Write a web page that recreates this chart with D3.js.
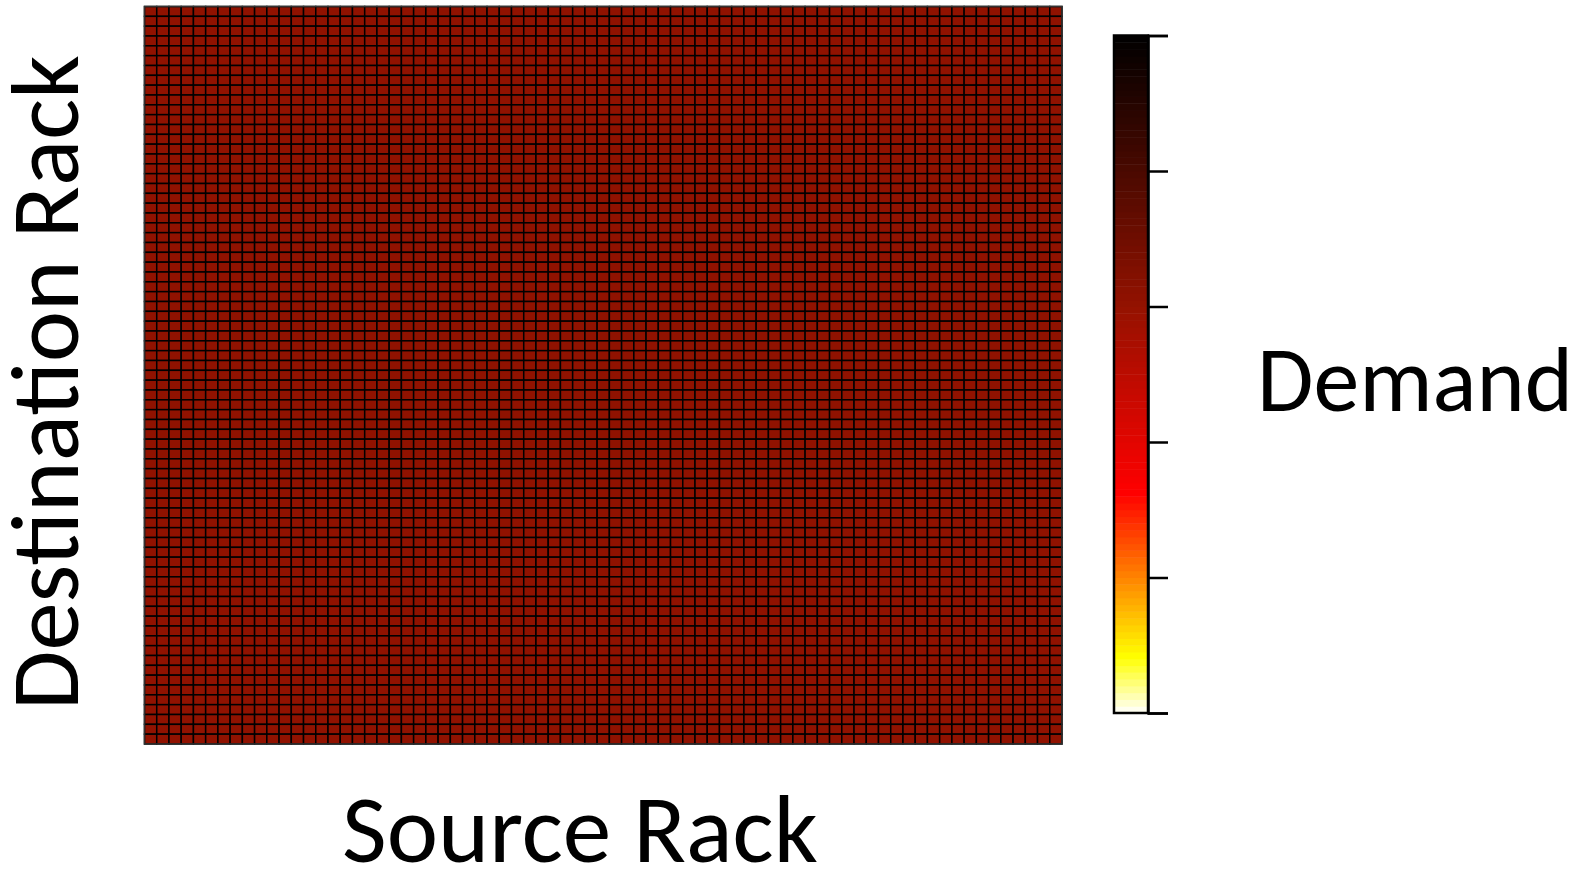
<!DOCTYPE html>
<html>
<head>
<meta charset="utf-8">
<script src="https://cdn.jsdelivr.net/npm/d3@7"></script>
<style>
  html, body { margin: 0; padding: 0; background: #fff; }
  svg { display: block; }
  text { font-family: Carlito, Calibri, Lato, sans-serif; fill: #000; }
</style>
</head>
<body>
<svg id="chart" width="1593" height="869"></svg>
<script>
// ---- data ----
const sourceRacks = d3.range(1, 76);        // 75 source racks (x)
const destinationRacks = d3.range(1, 76);   // 75 destination racks (y)
// every destination row shows the same uniform demand level (normalized 0..1)
const demandRow = [
  0.61,0.61,0.61,0.61,0.61,0.61,0.61,0.61,0.61,0.61,0.61,0.61,0.61,0.61,0.61,
  0.61,0.61,0.61,0.61,0.61,0.61,0.61,0.61,0.61,0.61,0.61,0.61,0.61,0.61,0.61,
  0.61,0.61,0.61,0.61,0.61,0.61,0.61,0.61,0.61,0.61,0.61,0.61,0.61,0.61,0.61,
  0.61,0.61,0.61,0.61,0.61,0.61,0.61,0.61,0.61,0.61,0.61,0.61,0.61,0.61,0.61,
  0.61,0.61,0.61,0.61,0.61,0.61,0.61,0.61,0.61,0.61,0.61,0.61,0.61,0.61,0.61
];
const colorbarTicks = [0, 0.2, 0.4, 0.6, 0.8, 1.0];
const xLabel = "Source Rack";
const yLabel = "Destination Rack";
const cbLabel = "Demand";

// ---- layout ----
const svg = d3.select("#chart");
const plot = { x0: 144.5, x1: 1062, y0: 6.5, y1: 744 };
const cb = { x0: 1114, x1: 1148, y0: 35.5, y1: 713 };

const x = d3.scaleBand().domain(sourceRacks).range([plot.x0, plot.x1]).padding(0);
const y = d3.scaleBand().domain(destinationRacks).range([plot.y0, plot.y1]).padding(0);

const heat = d3.scaleLinear()
  .domain([0, 0.083, 0.2, 0.325, 0.6, 1])
  .range(["#ffffff", "#ffff00", "#ff8400", "#ff0000", "#941200", "#000000"])
  .clamp(true);

const cells = [];
destinationRacks.forEach(d => {
  sourceRacks.forEach((s, i) => cells.push({ src: s, dst: d, v: demandRow[i] }));
});

svg.append("g")
  .selectAll("rect")
  .data(cells)
  .join("rect")
  .attr("x", d => x(d.src))
  .attr("y", d => y(d.dst))
  .attr("width", x.bandwidth())
  .attr("height", y.bandwidth())
  .attr("fill", d => heat(d.v))
  .attr("stroke", "#000")
  .attr("stroke-width", 1.5);

svg.append("rect")
  .attr("x", plot.x0).attr("y", plot.y0)
  .attr("width", plot.x1 - plot.x0).attr("height", plot.y1 - plot.y0)
  .attr("fill", "none").attr("stroke", "#333").attr("stroke-width", 1.5);

// ---- colorbar ----
const cbScale = d3.scaleLinear().domain([0, 1]).range([cb.y1, cb.y0]);
const nBands = 100;
const bands = d3.range(nBands).map(i => i / nBands);
svg.append("g")
  .selectAll("rect")
  .data(bands)
  .join("rect")
  .attr("x", cb.x0)
  .attr("y", d => cbScale(d + 1 / nBands))
  .attr("width", cb.x1 - cb.x0)
  .attr("height", d => cbScale(d) - cbScale(d + 1 / nBands) + 0.5)
  .attr("fill", d => heat(d + 0.5 / nBands));

svg.append("rect")
  .attr("x", cb.x0).attr("y", cb.y0)
  .attr("width", cb.x1 - cb.x0).attr("height", cb.y1 - cb.y0)
  .attr("fill", "none").attr("stroke", "#000").attr("stroke-width", 2.5);

const cbAxis = svg.append("g")
  .attr("transform", `translate(${cb.x1},0)`)
  .call(d3.axisRight(cbScale).tickValues(colorbarTicks).tickSize(20).tickFormat(""));
cbAxis.select(".domain").attr("stroke", "#000").attr("stroke-width", 2.5);
cbAxis.selectAll(".tick line").attr("stroke", "#000").attr("stroke-width", 2.5);

// ---- labels, fitted to the reference widths ----
function fitText(sel, targetWidth) {
  sel.style("font-size", "96px");
  const L = sel.node().getComputedTextLength();
  sel.style("font-size", (96 * targetWidth / L) + "px");
  return sel;
}

fitText(svg.append("text")
  .attr("x", 580).attr("y", 862)
  .attr("text-anchor", "middle")
  .text(xLabel), 476);

fitText(svg.append("text")
  .attr("transform", "translate(78,382.5) rotate(-90)")
  .attr("text-anchor", "middle")
  .text(yLabel), 655);

fitText(svg.append("text")
  .attr("x", 1257).attr("y", 411)
  .attr("text-anchor", "start")
  .text(cbLabel), 316);
</script>
</body>
</html>
